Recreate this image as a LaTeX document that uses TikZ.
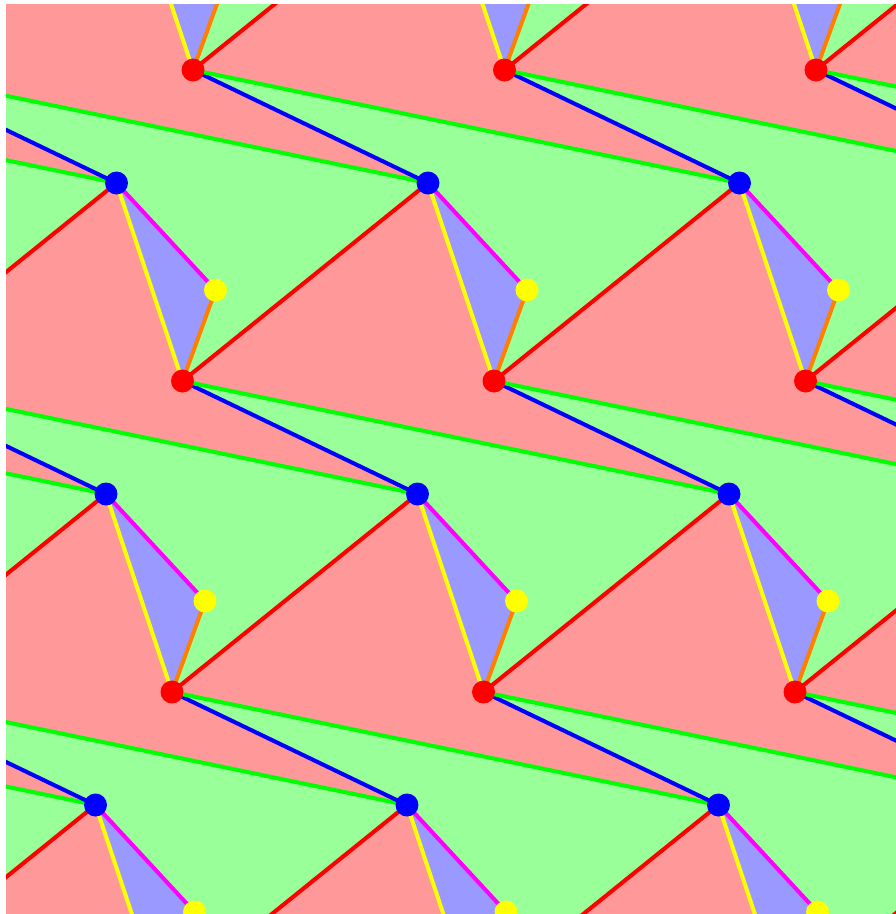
\documentclass[tikz,border=0pt]{standalone}
\usepackage{tikz}

\definecolor{salmon}{RGB}{255,153,153}
\definecolor{mint}{RGB}{153,255,153}
\definecolor{lilac}{RGB}{153,153,255}
\definecolor{lred}{RGB}{255,0,0}
\definecolor{lblue}{RGB}{0,0,255}
\definecolor{lgreen}{RGB}{0,255,0}
\definecolor{lmagenta}{RGB}{255,0,255}
\definecolor{lorange}{RGB}{255,128,0}
\definecolor{lyellow}{RGB}{255,255,0}

\tikzset{
  edge/.style={line width=2.3pt},
  dot/.style={radius=0.23cm},
}

% corners of one cell of the tiling, relative to its red point
\newcommand{\cellpts}{%
  \coordinate (R) at (0,0);
  \coordinate (B) at (-66,-198);
  \coordinate (Y) at (33,-91);
  \coordinate (Ra) at (311.5,0);
  \coordinate (Rab) at (301,311);
  \coordinate (Ba) at (245.5,-198);
  \coordinate (Bab) at (235,113);
  \coordinate (Baab) at (546.5,113);
  \coordinate (Yab) at (334,220);
}

\begin{document}
\begin{tikzpicture}[x=0.02cm, y=-0.02cm]
    \useasboundingbox (0,0) rectangle (896,914);
    \clip (6,4) rectangle (896,914);
    \fill[salmon] (6,4) rectangle (896,914);
    % faces
    \foreach \i in {-2,...,2} \foreach \j in {-1,...,3} {
      \begin{scope}[shift={({193+311.5*\i-10.5*\j},{70+311*\j})}]
        \cellpts
        \fill[mint] (R) -- (Baab) -- (Rab) -- (Yab) -- (Bab) -- cycle;
        \fill[lilac] (B) -- (Y) -- (R) -- cycle;
      \end{scope}
    }
    % edges
    \foreach \i in {-2,...,2} \foreach \j in {-1,...,3} {
      \begin{scope}[shift={({193+311.5*\i-10.5*\j},{70+311*\j})}]
        \cellpts
        \draw[edge, lred] (R) -- (Ba);
        \draw[edge, lblue] (R) -- (Bab);
        \draw[edge, lgreen] (R) -- (Baab);
        \draw[edge, lmagenta] (B) -- (Y);
        \draw[edge, lorange] (Y) -- (R);
        \draw[edge, lyellow] (B) -- (R);
      \end{scope}
    }
    % points
    \foreach \i in {-2,...,2} \foreach \j in {-1,...,3} {
      \begin{scope}[shift={({193+311.5*\i-10.5*\j},{70+311*\j})}]
        \cellpts
        \fill[lred] (R) circle[dot];
        \fill[lblue] (B) circle[dot];
        \fill[lyellow] (Y) circle[dot];
      \end{scope}
    }
\end{tikzpicture}
\end{document}
